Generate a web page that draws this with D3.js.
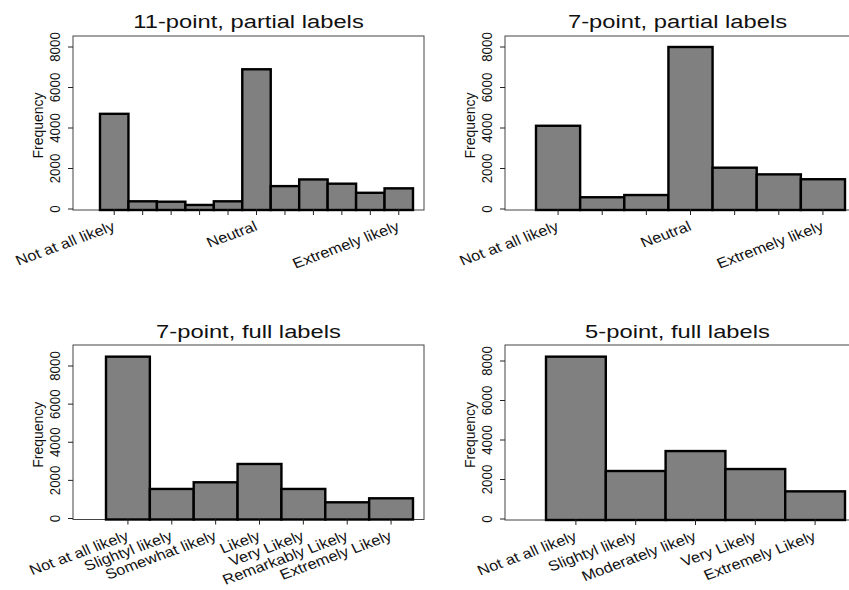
<!DOCTYPE html>
<html>
<head>
<meta charset="utf-8">
<script src="https://cdn.jsdelivr.net/npm/d3@7"></script>
<style>
  body { margin: 0; background: #fff; }
  svg { display: block; font-family: "Liberation Sans", Arial, sans-serif; }
</style>
</head>
<body>
<svg id="chart" width="849" height="590"></svg>
<script>
// data
const titles = ['11-point, partial labels', '7-point, partial labels', '7-point, full labels', '5-point, full labels'];

const p11Labels = ['Not at all likely', '', '', '', '', 'Neutral', '', '', '', '', 'Extremely likely'];
const p11Values = [4700, 380, 360, 200, 380, 6900, 1130, 1460, 1250, 800, 1020];

const p7pLabels = ['Not at all likely', '', '', 'Neutral', '', '', 'Extremely likely'];
const p7pValues = [4110, 580, 690, 8000, 2040, 1710, 1470];

const p7fLabels = ['Not at all likely', 'Slightyl likely', 'Somewhat likely', 'Likely', 'Very Likely', 'Remarkably Likely', 'Extremely Likely'];
const p7fValues = [8490, 1550, 1900, 2860, 1550, 850, 1060];

const p5fLabels = ['Not at all likely', 'Slightyl likely', 'Moderately likely', 'Very Likely', 'Extremely Likely'];
const p5fValues = [8220, 2430, 3440, 2530, 1400];

const yTicks = [0, 2000, 4000, 6000, 8000];

class BarPanel {
  constructor(_config, _labels, _values) {
    this.config = _config;
    this.labels = _labels;
    this.values = _values;
    this.initVis();
  }

  initVis() {
    let vis = this;
    let c = vis.config;
    vis.g = d3.select('#chart').append('g');

    // y(0) at the axis line, y(8000) at the top tick
    vis.yScale = d3.scaleLinear().domain([0, 8000]).range([c.y0, c.y8000]);
    vis.xScale = d3.scaleBand()
      .domain(d3.range(vis.values.length))
      .range([c.barLeft, c.barRight]);

    // plot region outline
    vis.g.append('rect')
      .attr('x', c.boxLeft)
      .attr('y', c.boxTop)
      .attr('width', c.boxRight - c.boxLeft)
      .attr('height', c.y0 + 1 - c.boxTop)
      .attr('fill', 'none')
      .attr('stroke', '#444')
      .attr('stroke-width', 1);

    // bars
    vis.g.selectAll('rect.bar')
      .data(vis.values)
      .join('rect')
      .attr('class', 'bar')
      .attr('x', (d, i) => vis.xScale(i))
      .attr('width', vis.xScale.bandwidth())
      .attr('y', d => vis.yScale(d))
      .attr('height', d => vis.yScale(0) - vis.yScale(d) + 1)
      .attr('fill', '#808080')
      .attr('stroke', '#000')
      .attr('stroke-width', 2.4);

    // y axis ticks + rotated labels
    vis.g.selectAll('line.ytick')
      .data(yTicks)
      .join('line')
      .attr('x1', c.boxLeft - 5)
      .attr('x2', c.boxLeft)
      .attr('y1', d => vis.yScale(d))
      .attr('y2', d => vis.yScale(d))
      .attr('stroke', '#222');

    vis.g.selectAll('text.ylab')
      .data(yTicks)
      .join('text')
      .attr('transform', d => `translate(${c.boxLeft - 13}, ${vis.yScale(d)}) scale(1.05,1) rotate(-90)`)
      .attr('text-anchor', 'middle')
      .attr('font-size', 13.3)
      .attr('fill', '#111')
      .text(d => d);

    vis.g.append('text')
      .attr('transform', `translate(${c.boxLeft - 30}, ${(c.y0 + c.boxTop) / 2 + 3}) rotate(-90)`)
      .attr('text-anchor', 'middle')
      .attr('font-size', 14)
      .attr('fill', '#111')
      .text('Frequency');

    // x ticks at bar centres
    let half = vis.xScale.bandwidth() / 2;
    vis.g.selectAll('line.xtick')
      .data(vis.values)
      .join('line')
      .attr('x1', (d, i) => vis.xScale(i) + half)
      .attr('x2', (d, i) => vis.xScale(i) + half)
      .attr('y1', c.y0)
      .attr('y2', c.y0 + 6)
      .attr('stroke', '#222');

    vis.g.selectAll('text.xlab')
      .data(vis.labels)
      .join('text')
      .attr('transform', (d, i) => `translate(${vis.xScale(i) + half - 3}, ${c.y0 + 11}) scale(1.15,1) rotate(-23)`)
      .attr('text-anchor', 'end')
      .attr('dy', '0.75em')
      .attr('font-size', 14.3)
      .attr('fill', '#111')
      .text(d => d);

    // title
    vis.g.append('text')
      .attr('transform', `translate(${(c.boxLeft + c.boxRight) / 2}, ${c.titleY}) scale(1.32,1)`)
      .attr('text-anchor', 'middle')
      .attr('font-size', 18)
      .attr('fill', '#111')
      .text(c.title);
  }
}

new BarPanel({title: titles[0], boxLeft: 73, boxRight: 424, boxTop: 36, y0: 209, y8000: 47,
  barLeft: 100, barRight: 413, titleY: 28}, p11Labels, p11Values);
new BarPanel({title: titles[1], boxLeft: 505, boxRight: 850, boxTop: 36, y0: 209, y8000: 47,
  barLeft: 536, barRight: 845, titleY: 28}, p7pLabels, p7pValues);
new BarPanel({title: titles[2], boxLeft: 73, boxRight: 424, boxTop: 345, y0: 518.5, y8000: 366,
  barLeft: 106, barRight: 413, titleY: 338}, p7fLabels, p7fValues);
new BarPanel({title: titles[3], boxLeft: 505, boxRight: 850, boxTop: 345, y0: 519, y8000: 361,
  barLeft: 546, barRight: 845, titleY: 338}, p5fLabels, p5fValues);
</script>
</body>
</html>
